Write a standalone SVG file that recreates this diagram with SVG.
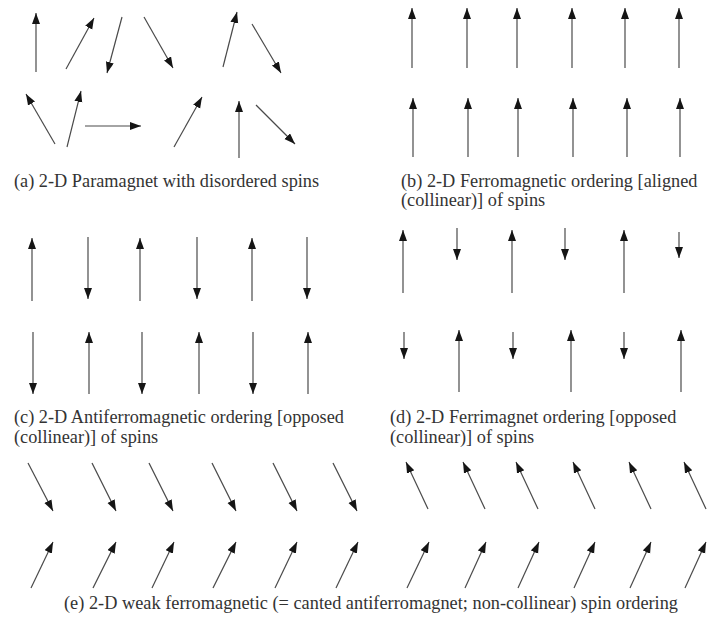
<svg xmlns="http://www.w3.org/2000/svg" width="708" height="626" viewBox="0 0 708 626">
<defs>
<marker id="h" markerUnits="userSpaceOnUse" markerWidth="12" markerHeight="9" refX="11" refY="4" orient="auto">
<path d="M0,0 L11,4 L0,8 Z" fill="#151515"/>
</marker>
<style>
line{stroke:#4a4a4a;stroke-width:1.2;marker-end:url(#h)}
text{font-family:"Liberation Serif","Times New Roman",serif;font-size:18.3px;fill:#333}
</style>
</defs>
<rect width="708" height="626" fill="#fff"/>
<g id="connectors">
<g id="panel-a">
<line x1="36" y1="72" x2="36" y2="13"/>
<line x1="66" y1="69" x2="94" y2="18"/>
<line x1="122" y1="17" x2="107" y2="73"/>
<line x1="144" y1="17" x2="173" y2="68"/>
<line x1="223" y1="67" x2="237" y2="12"/>
<line x1="252" y1="24" x2="281" y2="73"/>
<line x1="55" y1="144" x2="26" y2="94"/>
<line x1="67" y1="147" x2="81" y2="91"/>
<line x1="85" y1="126" x2="141" y2="126"/>
<line x1="174" y1="147" x2="202" y2="97"/>
<line x1="239" y1="158" x2="239" y2="101"/>
<line x1="256" y1="105" x2="295" y2="144"/>
</g>
<g id="panel-b">
<line x1="412" y1="68" x2="412" y2="8"/>
<line x1="467" y1="68" x2="467" y2="8"/>
<line x1="517" y1="68" x2="517" y2="8"/>
<line x1="572" y1="68" x2="572" y2="8"/>
<line x1="625" y1="68" x2="625" y2="8"/>
<line x1="679" y1="68" x2="679" y2="8"/>
<line x1="413" y1="157" x2="413" y2="98"/>
<line x1="468" y1="157" x2="468" y2="98"/>
<line x1="518" y1="157" x2="518" y2="98"/>
<line x1="573" y1="157" x2="573" y2="98"/>
<line x1="627" y1="157" x2="627" y2="98"/>
<line x1="680" y1="157" x2="680" y2="98"/>
</g>
<g id="panel-c">
<line x1="32" y1="301" x2="32" y2="238"/>
<line x1="88" y1="237" x2="88" y2="299"/>
<line x1="140" y1="301" x2="140" y2="238"/>
<line x1="197" y1="237" x2="197" y2="299"/>
<line x1="252" y1="301" x2="252" y2="238"/>
<line x1="307" y1="237" x2="307" y2="299"/>
<line x1="33" y1="332" x2="33" y2="394"/>
<line x1="89" y1="394" x2="89" y2="332"/>
<line x1="142" y1="332" x2="142" y2="394"/>
<line x1="199" y1="394" x2="199" y2="332"/>
<line x1="253" y1="332" x2="253" y2="394"/>
<line x1="308" y1="394" x2="308" y2="332"/>
</g>
<g id="panel-d">
<line x1="403" y1="293" x2="403" y2="230"/>
<line x1="457" y1="228" x2="457" y2="260"/>
<line x1="512" y1="293" x2="512" y2="230"/>
<line x1="565" y1="228" x2="565" y2="260"/>
<line x1="624" y1="293" x2="624" y2="230"/>
<line x1="679" y1="232" x2="679" y2="258"/>
<line x1="404" y1="332" x2="404" y2="359"/>
<line x1="459" y1="392" x2="459" y2="330"/>
<line x1="513" y1="332" x2="513" y2="359"/>
<line x1="571" y1="392" x2="571" y2="330"/>
<line x1="624" y1="332" x2="624" y2="359"/>
<line x1="681" y1="392" x2="681" y2="330"/>
</g>
<g id="panel-e">
<line x1="28" y1="463" x2="53" y2="511"/>
<line x1="92" y1="463" x2="116" y2="511"/>
<line x1="149" y1="463" x2="173" y2="511"/>
<line x1="212" y1="463" x2="236" y2="511"/>
<line x1="273" y1="463" x2="297" y2="511"/>
<line x1="333" y1="463" x2="357" y2="511"/>
<line x1="428" y1="509" x2="406" y2="462"/>
<line x1="485" y1="509" x2="463" y2="462"/>
<line x1="538" y1="509" x2="516" y2="462"/>
<line x1="595" y1="509" x2="573" y2="462"/>
<line x1="651" y1="509" x2="629" y2="462"/>
<line x1="706" y1="509" x2="684" y2="462"/>
<line x1="31" y1="588" x2="53" y2="542"/>
<line x1="93" y1="588" x2="116" y2="542"/>
<line x1="152" y1="588" x2="174" y2="542"/>
<line x1="213" y1="588" x2="236" y2="542"/>
<line x1="275" y1="588" x2="297" y2="542"/>
<line x1="336" y1="588" x2="358" y2="542"/>
<line x1="407" y1="588" x2="429" y2="542"/>
<line x1="465" y1="588" x2="486" y2="542"/>
<line x1="518" y1="588" x2="539" y2="542"/>
<line x1="574" y1="588" x2="595" y2="542"/>
<line x1="630" y1="588" x2="651" y2="542"/>
<line x1="685" y1="588" x2="706" y2="542"/>
</g>
</g>
<g id="caption-a"><text x="14" y="187">(a) 2-D Paramagnet with disordered spins</text></g>
<g id="caption-b"><text x="401" y="187">(b) 2-D Ferromagnetic ordering [aligned</text><text x="401" y="206">(collinear)] of spins</text></g>
<g id="caption-c"><text x="14" y="423">(c) 2-D Antiferromagnetic ordering [opposed</text><text x="14" y="443">(collinear)] of spins</text></g>
<g id="caption-d"><text x="390" y="423">(d) 2-D Ferrimagnet ordering [opposed</text><text x="390" y="443">(collinear)] of spins</text></g>
<g id="caption-e"><text x="64" y="609" textLength="614">(e) 2-D weak ferromagnetic (= canted antiferromagnet; non-collinear) spin ordering</text></g>
</svg>
